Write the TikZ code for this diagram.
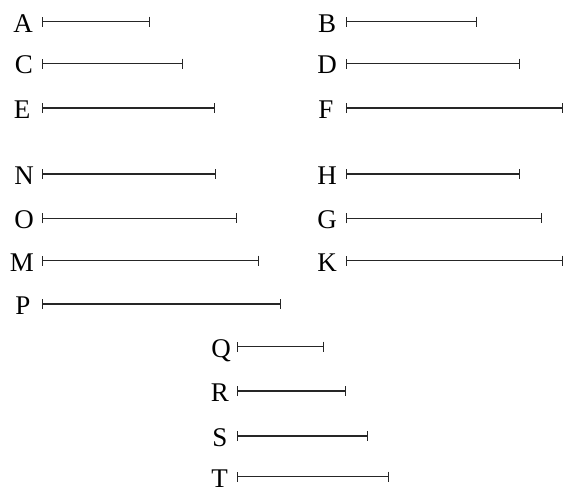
\documentclass[tikz,border=0pt]{standalone}
\usepackage{fontspec}
\setmainfont{Liberation Serif}
\usetikzlibrary{arrows.meta}
\begin{document}
\begin{tikzpicture}[x=1pt,y=-1pt,
  lab/.style={anchor=base,inner sep=0pt,font=\fontsize{27}{31}\selectfont},
  barline/.style={line width=1.1pt,black!85,{Bar[width=10pt,line width=1.1pt]}-{Bar[width=10pt,line width=1.1pt]}}]
\useasboundingbox (0,0) rectangle (564,487);
\foreach \n/\lx/\bx/\ex/\yy in {
  A/23/41.7/150/21.7, B/327/345.7/476.7/21.7,
  C/24/41.7/182.7/63.5, D/327/345.7/520/63.5,
  E/22/41.7/215/108, F/326/345.7/563/108,
  N/24/41.7/216/174, H/327/345.7/520/174,
  O/24/41.7/237.3/218.3, G/327/345.7/541.7/218.3,
  M/22/41.7/259/260.7, K/327/345.7/563/260.7,
  P/23/41.7/281/304,
  Q/221/237.3/324.3/346.7,
  R/220/237.3/345.7/391,
  S/220/237.3/367.7/436,
  T/219.5/237.3/389.3/476.7}{
  \coordinate (\n s) at (\bx,\yy);
  \coordinate (\n e) at (\ex,\yy);
  \node[lab] (\n) at (\lx,\yy+10.5) {\n};
  \draw[barline] (\n s) -- (\n e);
}
\end{tikzpicture}
\end{document}
